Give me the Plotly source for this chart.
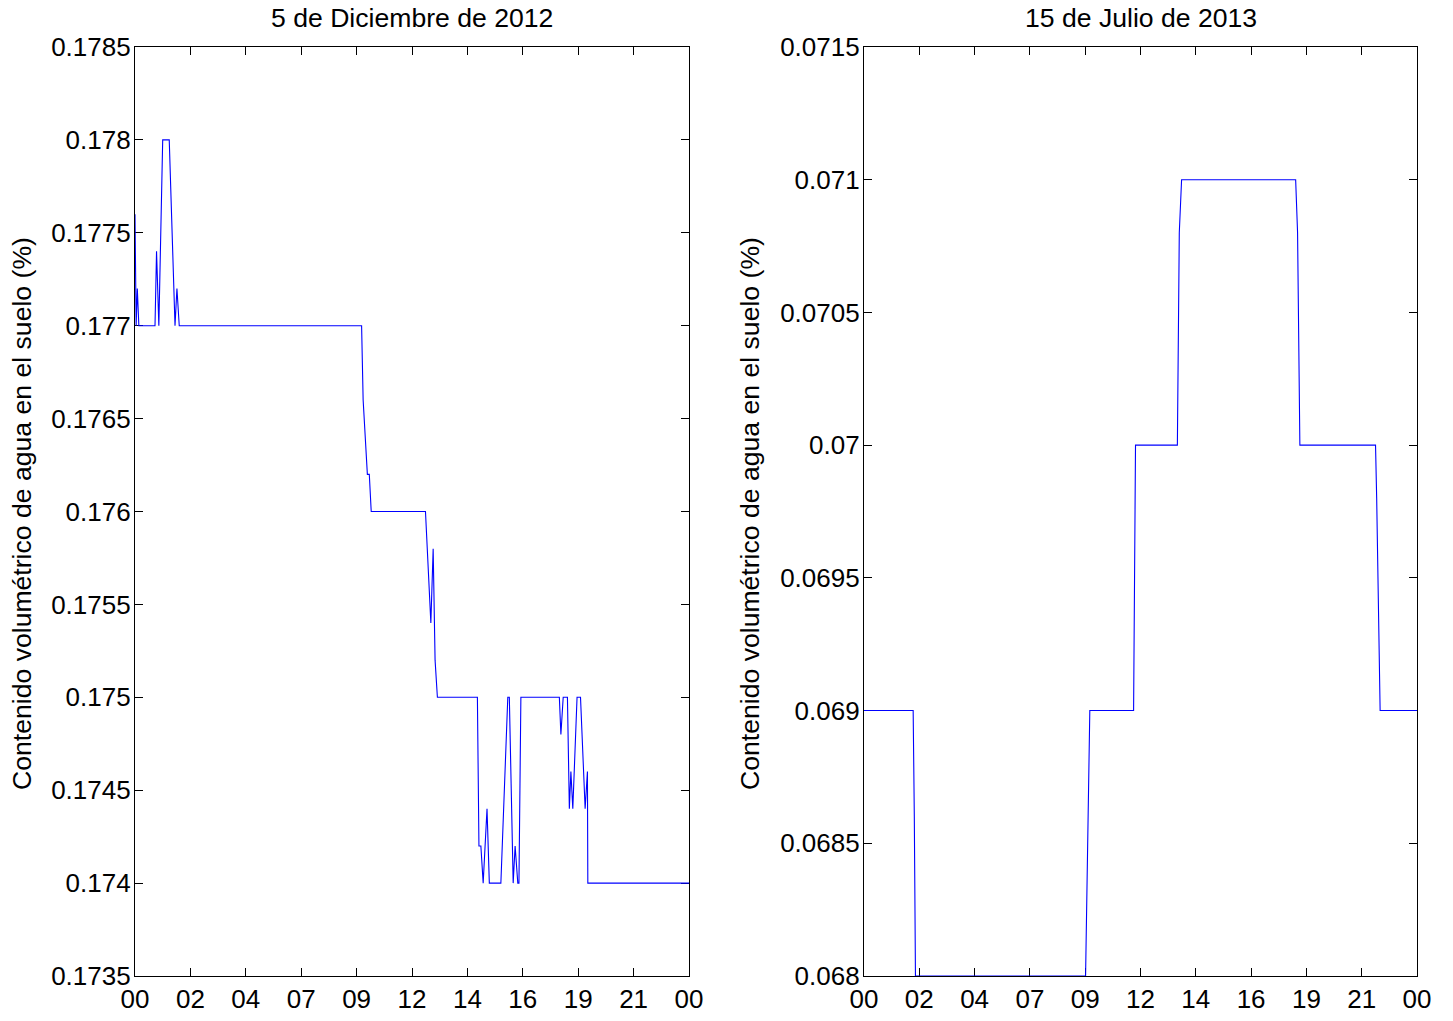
import plotly.graph_objects as go

# ---- data: soil volumetric water content, vertices of each daily record ----
# time in minutes after midnight
dic_min = [0, 3, 6, 10, 52, 56, 62, 72, 89, 104, 109, 115, 589, 593, 604, 609, 614,
           755, 769, 775, 780, 786, 890, 894, 899, 905, 915, 921, 951, 969, 973, 983,
           988, 995, 998, 1003, 1103, 1107, 1113, 1124, 1129, 1133, 1138, 1149, 1158,
           1170, 1176, 1177, 1440]
dic_val = [0.1776, 0.177, 0.1772, 0.177, 0.177, 0.1774, 0.177, 0.178, 0.178, 0.177,
           0.1772, 0.177, 0.177, 0.1766, 0.1762, 0.1762, 0.176, 0.176, 0.1754, 0.1758,
           0.1752, 0.175, 0.175, 0.1742, 0.1742, 0.174, 0.1744, 0.174, 0.174, 0.175,
           0.175, 0.174, 0.1742, 0.174, 0.174, 0.175, 0.175, 0.1748, 0.175, 0.175,
           0.1744, 0.1746, 0.1744, 0.175, 0.175, 0.1744, 0.1746, 0.174, 0.174]

jul_min = [0, 128, 131, 134, 577, 582, 588, 702, 707, 816, 821, 827, 1124, 1129, 1135,
           1332, 1335, 1344, 1440]
jul_val = [0.069, 0.069, 0.0686, 0.068, 0.068, 0.0684, 0.069, 0.069, 0.07, 0.07,
           0.0708, 0.071, 0.071, 0.0708, 0.07, 0.07, 0.0698, 0.069, 0.069]

# x ticks: day split into ten equal intervals, labelled by hour
x_tickvals = [0, 144, 288, 432, 576, 720, 864, 1008, 1152, 1296, 1440]
x_ticktext = ["00", "02", "04", "07", "09", "12", "14", "16", "19", "21", "00"]

dic_yticks = [0.1735, 0.174, 0.1745, 0.175, 0.1755, 0.176, 0.1765, 0.177, 0.1775, 0.178, 0.1785]
dic_ytext = ["0.1735", "0.174", "0.1745", "0.175", "0.1755", "0.176", "0.1765", "0.177",
             "0.1775", "0.178", "0.1785"]
jul_yticks = [0.068, 0.0685, 0.069, 0.0695, 0.07, 0.0705, 0.071, 0.0715]
jul_ytext = ["0.068", "0.0685", "0.069", "0.0695", "0.07", "0.0705", "0.071", "0.0715"]

titles = ["5 de Diciembre de 2012", "15 de Julio de 2013"]
ylabel = "Contenido volumétrico de agua en el suelo (%)"

# ---- layout geometry ----
W, H = 1453, 1021
FONT = "Liberation Sans, Arial, Helvetica, sans-serif"
FS = 26
FS_LABEL = 26.6

def px_x(p):
    return p / W

def px_y(p):
    return 1 - p / H

left_dom = [px_x(135), px_x(689)]
right_dom = [px_x(864), px_x(1417)]
y_dom = [px_y(976), px_y(47)]

fig = go.Figure()
fig.add_trace(go.Scatter(x=dic_min, y=dic_val, mode="lines",
                         line=dict(color="#0000ff", width=1.1),
                         xaxis="x", yaxis="y", showlegend=False, hoverinfo="skip"))
fig.add_trace(go.Scatter(x=jul_min, y=jul_val, mode="lines",
                         line=dict(color="#0000ff", width=1.1),
                         xaxis="x2", yaxis="y2", showlegend=False, hoverinfo="skip"))

axis_common = dict(
    showline=True, linecolor="black", linewidth=1.2, mirror="ticks",
    ticks="inside", ticklen=8, tickwidth=1, tickcolor="black",
    showgrid=False, zeroline=False, layer="below traces", automargin=False,
    tickfont=dict(family=FONT, size=FS, color="black"),
)

fig.update_layout(
    width=W, height=H,
    margin=dict(l=0, r=0, t=0, b=0, autoexpand=False),
    paper_bgcolor="white", plot_bgcolor="white",
    font=dict(family=FONT, size=FS, color="black"),
    xaxis=dict(domain=left_dom, range=[0, 1440], tickmode="array",
               tickvals=x_tickvals, ticktext=x_ticktext, anchor="y", **axis_common),
    yaxis=dict(domain=y_dom, range=[0.1735, 0.1785], tickmode="array",
               tickvals=dic_yticks, ticktext=dic_ytext, anchor="x",
               ticklabelstandoff=-2, **axis_common),
    xaxis2=dict(domain=right_dom, range=[0, 1440], tickmode="array",
                tickvals=x_tickvals, ticktext=x_ticktext, anchor="y2", **axis_common),
    yaxis2=dict(domain=y_dom, range=[0.068, 0.0715], tickmode="array",
                tickvals=jul_yticks, ticktext=jul_ytext, anchor="x2",
                ticklabelstandoff=-2, **axis_common),
)

# subplot titles
for dom, txt in zip([left_dom, right_dom], titles):
    fig.add_annotation(x=(dom[0] + dom[1]) / 2, y=px_y(18), xref="paper", yref="paper",
                       text=txt, showarrow=False, xanchor="center", yanchor="middle",
                       font=dict(family=FONT, size=FS_LABEL, color="black"))

# y-axis titles
for xp in [22, 750]:
    fig.add_annotation(x=px_x(xp), y=px_y(514), xref="paper", yref="paper",
                       text=ylabel, textangle=-90, showarrow=False,
                       xanchor="center", yanchor="middle",
                       font=dict(family=FONT, size=FS_LABEL, color="black"))

fig.write_html("out.html")
